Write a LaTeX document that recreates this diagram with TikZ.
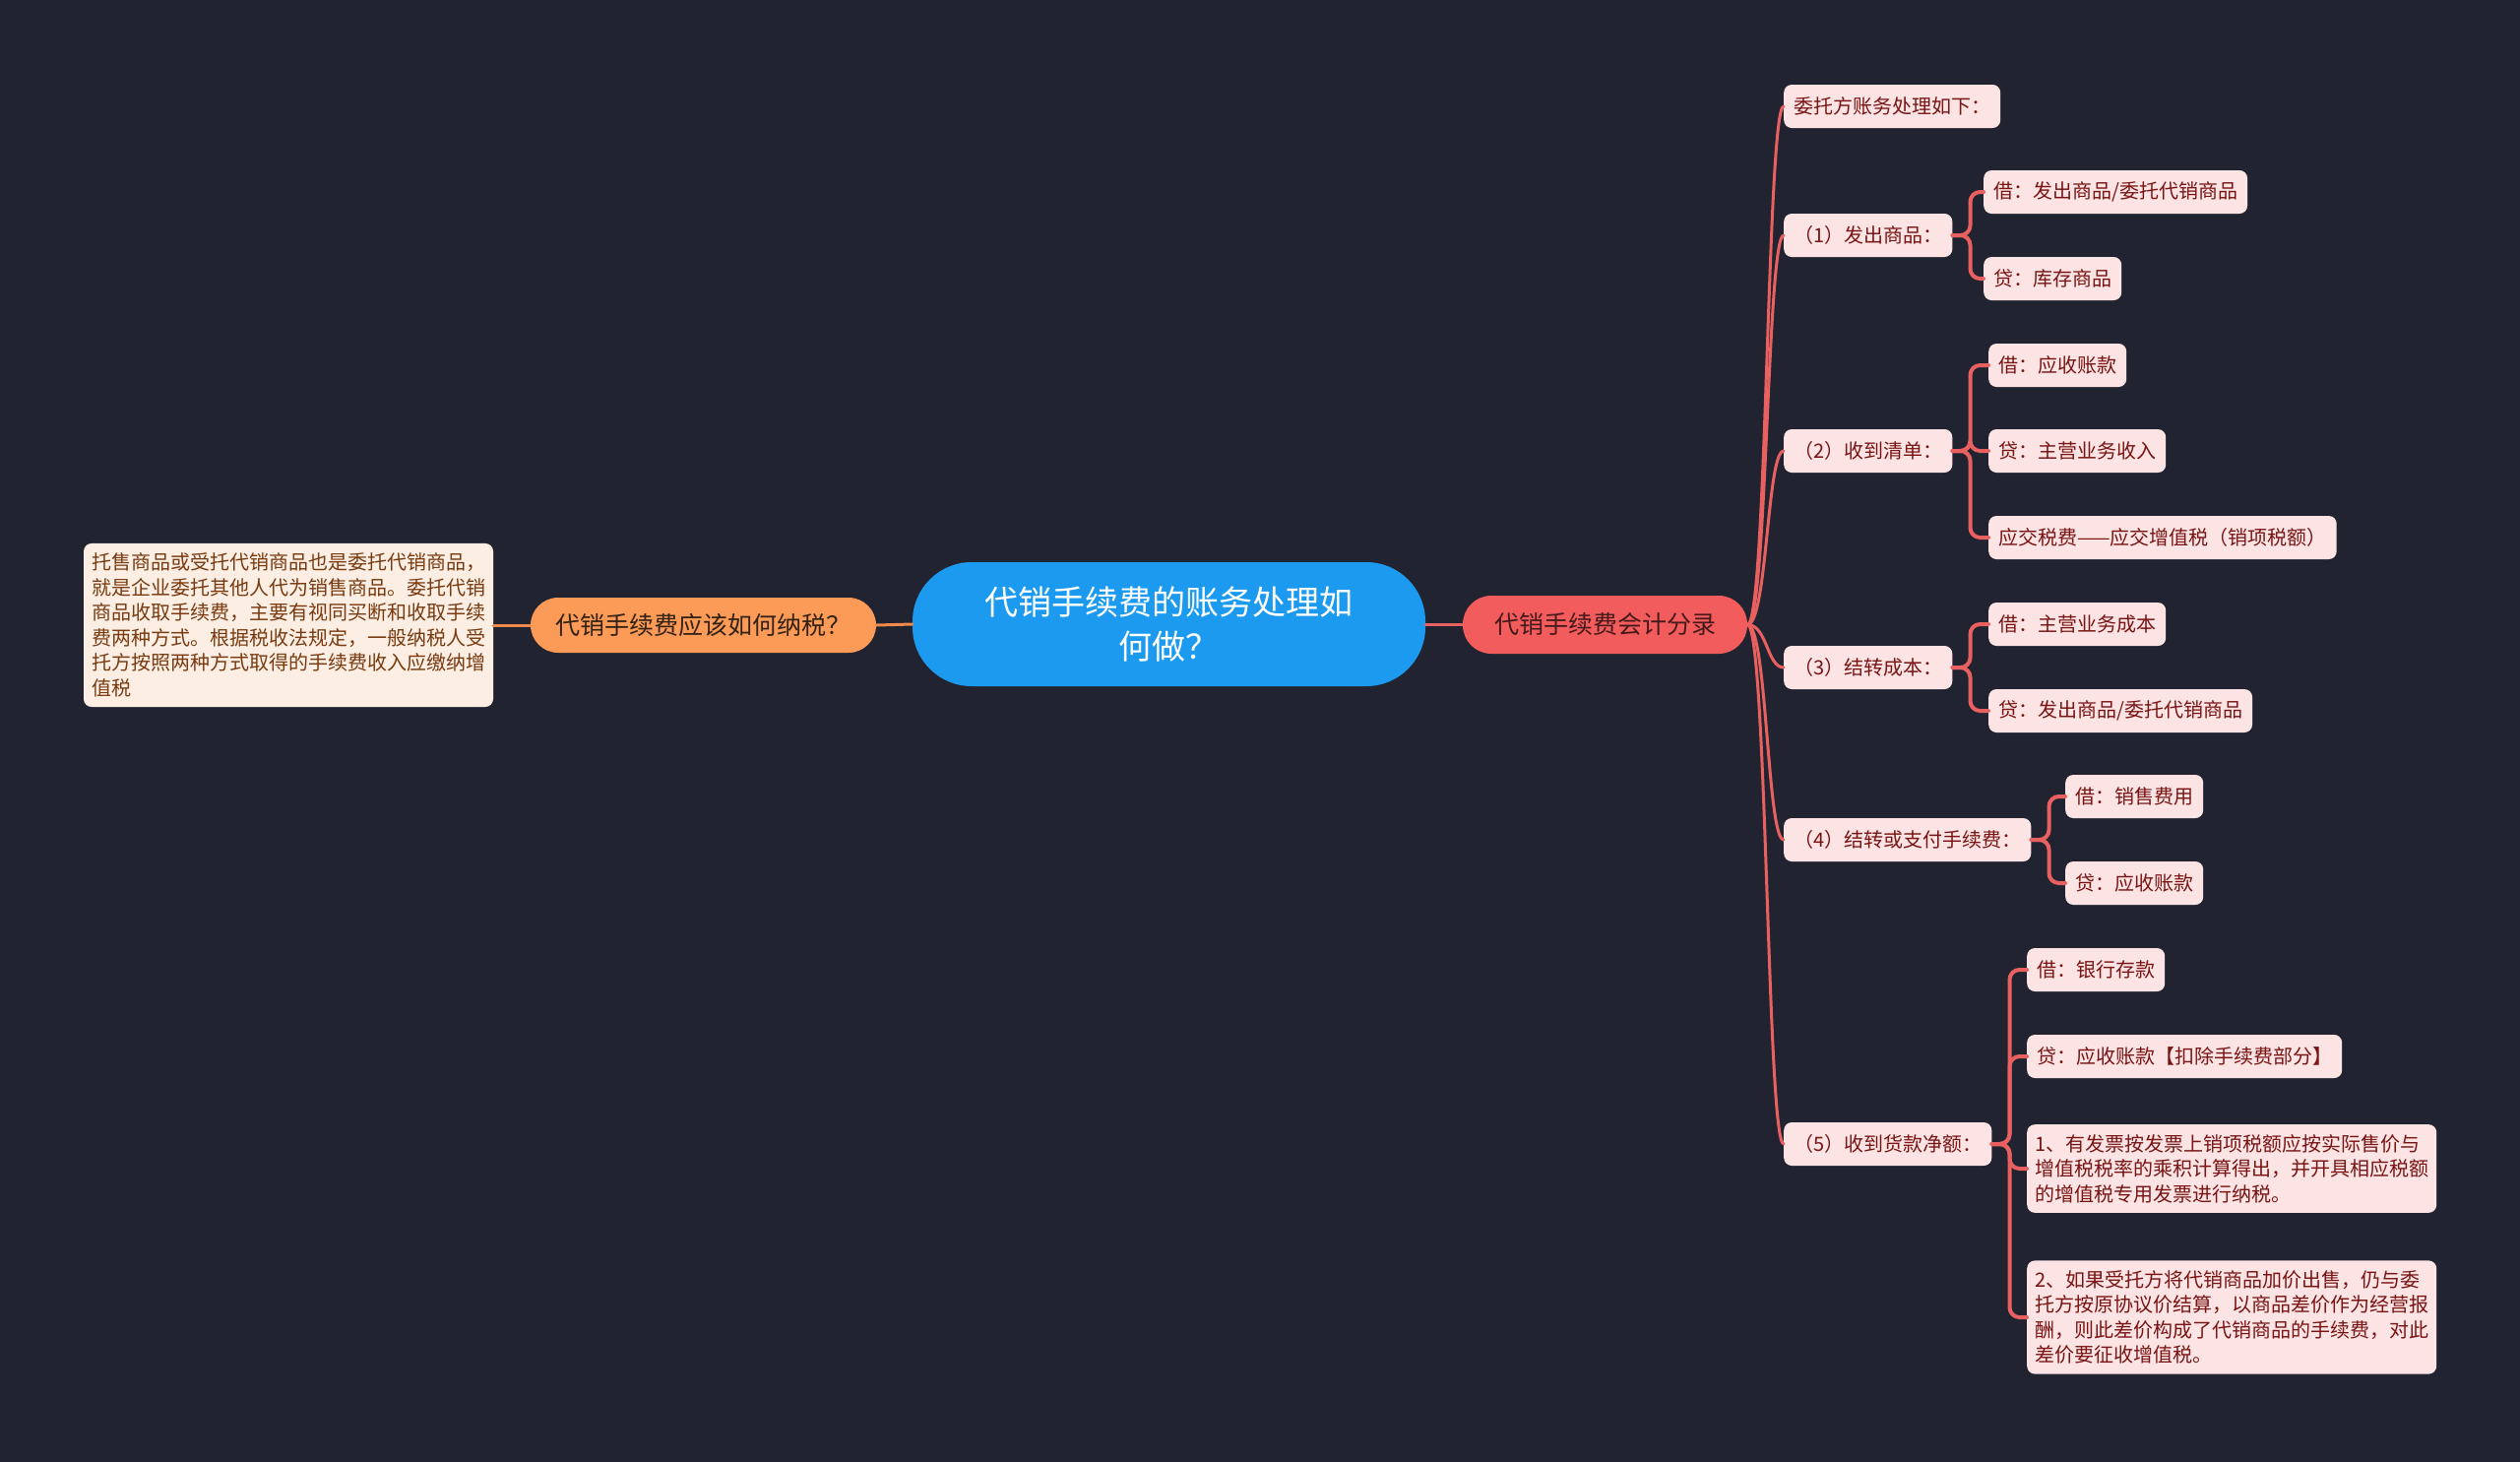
\documentclass[tikz,border=0pt]{standalone}
\usepackage{fontspec}
\setmainfont{Noto Sans CJK SC}
\definecolor{bgcol}{RGB}{33,36,48}
\definecolor{rootcol}{RGB}{27,154,240}
\definecolor{orangecol}{RGB}{252,154,87}
\definecolor{redcol}{RGB}{242,92,92}
\definecolor{leafbg}{RGB}{253,228,228}
\definecolor{leaftx}{RGB}{120,20,20}
\definecolor{notebg}{RGB}{253,238,228}
\definecolor{notetx}{RGB}{120,58,16}
\definecolor{redline}{RGB}{232,96,95}
\definecolor{orangeline}{RGB}{240,138,75}
\begin{document}
\begin{tikzpicture}[x=1pt,y=-1pt,line join=round,line cap=round]
			\tikzset{
				leaf/.style={fill=leafbg, text=leaftx, rounded corners=8pt, inner xsep=10pt, inner ysep=0pt, minimum height=44pt, anchor=west, font=\fontsize{20}{25.5}\selectfont},
				note/.style={leaf, align=left, inner xsep=8pt, inner ysep=10pt, minimum height=0pt},
				pill/.style={rounded corners=28pt, inner sep=0pt, align=center},
				fan/.style={draw=redline, line width=3pt},
				elbow/.style={draw=redline, line width=4pt, rounded corners=10pt}
			}
			\useasboundingbox (0,0) rectangle (2560,1484);
			\fill[bgcol] (-20,-20) rectangle (2580,1504);
			% main nodes
			\node[pill, fill=rootcol, text=white, minimum width=521pt, minimum height=126pt, rounded corners=60pt,
				font=\fontsize{34}{45}\selectfont] (root) at (1187.5,634) {代销手续费的账务处理如\\何做？};
			\node[pill, fill=orangecol, text={rgb,255:red,50;green,34;blue,20}, minimum width=351pt, minimum height=56pt,
				font=\fontsize{25}{30}\selectfont] (tax) at (714.5,635) {代销手续费应该如何纳税？};
			\node[pill, fill=redcol, text={rgb,255:red,70;green,26;blue,26}, minimum width=289pt, minimum height=59pt, rounded corners=29pt,
				font=\fontsize{25}{30}\selectfont] (acct) at (1630.5,634.5) {代销手续费会计分录};
			\node[note, fill=notebg, text=notetx, anchor=center] (rule) at (293,635) {托售商品或受托代销商品也是委托代销商品，\\就是企业委托其他人代为销售商品。委托代销\\商品收取手续费，主要有视同买断和收取手续\\费两种方式。根据税收法规定，一般纳税人受\\托方按照两种方式取得的手续费收入应缴纳增\\值税};
			% entries
			\node[leaf] (top) at (1812,108) {委托方账务处理如下：};
			\node[leaf] (s1) at (1812,239) {（1）发出商品：};
			\node[leaf] (s1a) at (2015,195) {借：发出商品/委托代销商品};
			\node[leaf] (s1b) at (2015,283) {贷：库存商品};
			\node[leaf] (s2) at (1812,458) {（2）收到清单：};
			\node[leaf] (s2a) at (2020,371) {借：应收账款};
			\node[leaf] (s2b) at (2020,458) {贷：主营业务收入};
			\node[leaf] (s2c) at (2020,546) {应交税费——应交增值税（销项税额）};
			\node[leaf] (s3) at (1812,678) {（3）结转成本：};
			\node[leaf] (s3a) at (2020,634) {借：主营业务成本};
			\node[leaf] (s3b) at (2020,722) {贷：发出商品/委托代销商品};
			\node[leaf] (s4) at (1812,853) {（4）结转或支付手续费：};
			\node[leaf] (s4a) at (2098,809) {借：销售费用};
			\node[leaf] (s4b) at (2098,897) {贷：应收账款};
			\node[leaf] (s5) at (1812,1162) {（5）收到货款净额：};
			\node[leaf] (s5a) at (2059,985) {借：银行存款};
			\node[leaf] (s5b) at (2059,1073) {贷：应收账款【扣除手续费部分】};
			\node[note] (s5c) at (2059,1187) {1、有发票按发票上销项税额应按实际售价与\\增值税税率的乘积计算得出，并开具相应税额\\的增值税专用发票进行纳税。};
			\node[note] (s5d) at (2059,1338) {2、如果受托方将代销商品加价出售，仍与委\\托方按原协议价结算，以商品差价作为经营报\\酬，则此差价构成了代销商品的手续费，对此\\差价要征收增值税。};
			% connectors
			\draw[orangeline, line width=3pt] (root.west) -- (tax.west -| tax.east);
			\draw[orangeline, line width=3pt] (tax.west) -- (rule.east |- tax.west);
			\draw[fan] (root.east |- acct.west) -- (acct.west);
			\foreach \c in {top,s1,s2,s3,s4,s5}
			\draw[fan] (acct.east) .. controls +(20,0) and +(-17,0) .. (\c.west);
			\foreach \p/\c in {s1/s1a,s1/s1b,s2/s2a,s2/s2b,s2/s2c,s3/s3a,s3/s3b,s4/s4a,s4/s4b,s5/s5a,s5/s5b,s5/s5c,s5/s5d}
			\draw[elbow] (\p.east) -- ++(18,0) |- (\c.west);
		\end{tikzpicture}
\end{document}
